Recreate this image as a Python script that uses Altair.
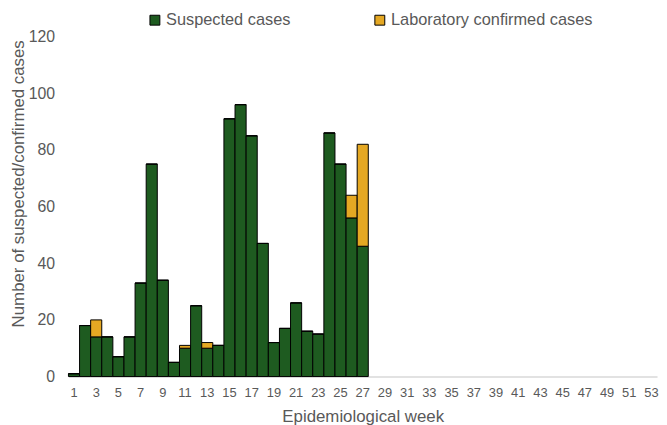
import altair as alt
import pandas as pd

weeks = list(range(1, 54))
data_weeks = list(range(1, 28))
suspected = [1, 18, 14, 14, 7, 14, 33, 75, 34, 5, 10, 25, 10, 11, 91, 96, 85, 47,
             12, 17, 26, 16, 15, 86, 75, 56, 46]
confirmed = [0, 0, 6, 0, 0, 0, 0, 0, 0, 0, 1, 0, 2, 0, 0, 0, 0, 0,
             0, 0, 0, 0, 0, 0, 0, 8, 36]
series = ["Suspected cases", "Laboratory confirmed cases"]
colors = ["#1e5b20", "#e5a823"]
y_ticks = [0, 20, 40, 60, 80, 100, 120]

rows = []
for w, s, c in zip(data_weeks, suspected, confirmed):
    rows.append({"week": w, "series": series[0], "value": s, "ord": 0})
    rows.append({"week": w, "series": series[1], "value": c, "ord": 1})
df = pd.DataFrame(rows)

label_color = "#595959"
font = "Liberation Sans"

chart = alt.Chart(df).mark_bar(stroke="#000000", strokeWidth=1).encode(
    x=alt.X("week:O", scale=alt.Scale(domain=weeks, paddingInner=0, paddingOuter=0),
            axis=alt.Axis(title="Epidemiological week", labelAngle=0,
                          labelExpr="datum.value % 2 == 1 ? datum.label : ''",
                          ticks=False, tickSize=0, labelPadding=10,
                          labelFont="Liberation Sans Narrow, Liberation Sans",
                          labelFontSize=13, labelColor=label_color,
                          domainColor="#d9d9d9", domainWidth=1.5,
                          titleFont=font, titleFontSize=17, titleFontWeight="normal",
                          titleColor=label_color, titleBaseline="alphabetic", titleY=45)),
    y=alt.Y("value:Q", stack="zero", scale=alt.Scale(domain=[0, 120], nice=False),
            axis=alt.Axis(title="Number of suspected/confirmed cases", values=y_ticks,
                          grid=False, domain=False, ticks=False, tickSize=0,
                          labelPadding=14, labelFont=font, labelFontSize=16,
                          labelColor=label_color,
                          titleFont=font, titleFontSize=17, titleFontWeight="normal",
                          titleColor=label_color, titleAngle=270, titleAlign="center",
                          titleBaseline="alphabetic", titleX=-45, titleY=148)),
    color=alt.Color("series:N", scale=alt.Scale(domain=series, range=colors),
                    legend=alt.Legend(title=None, orient="none", direction="horizontal",
                                      legendX=79, legendY=-25, columnPadding=81,
                                      labelOffset=3, padding=0, labelLimit=400,
                                      symbolType="square", symbolSize=100,
                                      symbolStrokeColor="#000000", symbolStrokeWidth=1,
                                      labelFont=font, labelFontSize=16.5,
                                      labelColor=label_color)),
    order=alt.Order("ord:Q", sort="ascending"),
).properties(
    width=594, height=343,
    autosize=alt.AutoSizeParams(type="none"),
    padding={"left": 61, "top": 27, "right": 2, "bottom": 50},
).configure_view(stroke=None)

chart.save("out.html", embed_options={"renderer": "svg", "actions": False})
